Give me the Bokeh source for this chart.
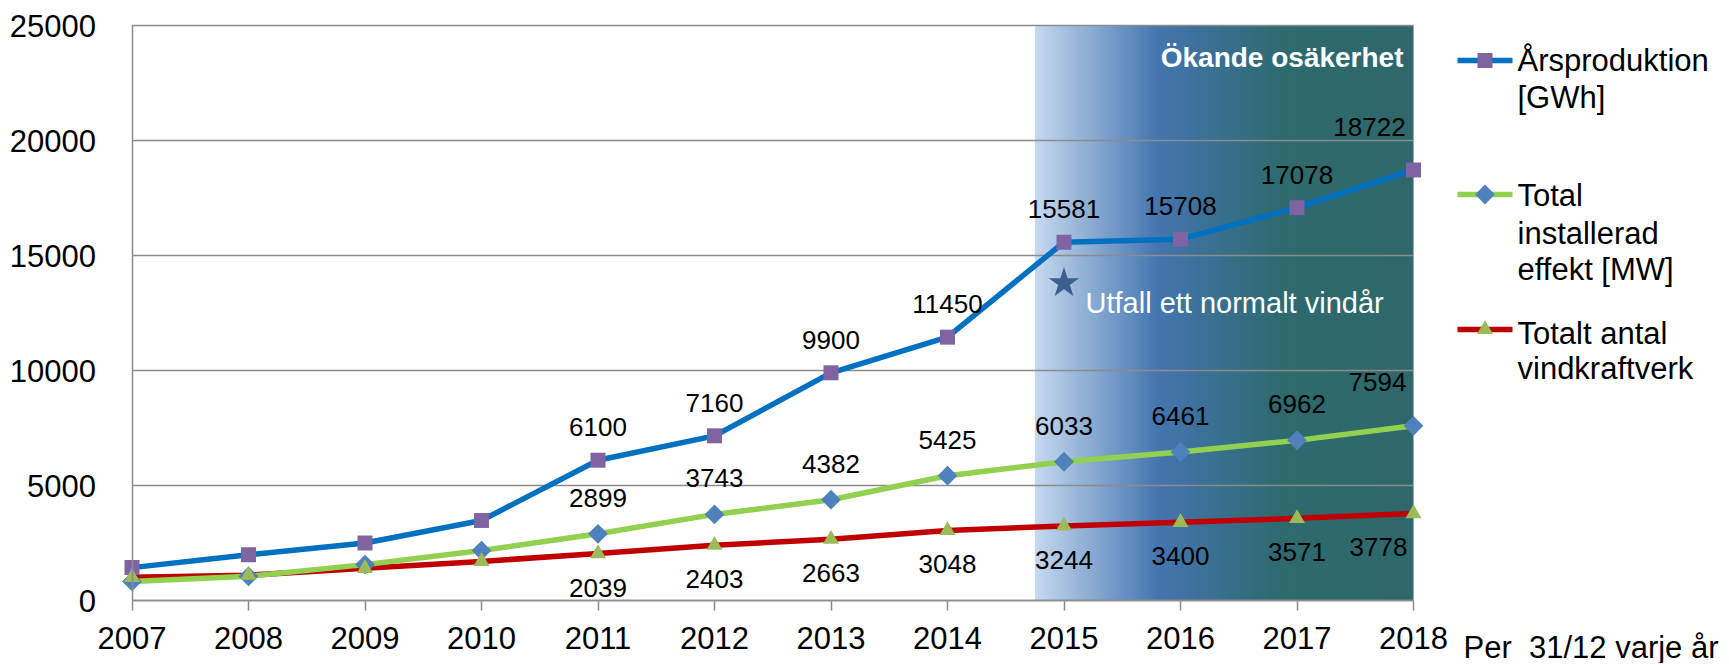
from bokeh.plotting import figure
from bokeh.models import Range1d, FixedTicker, ColumnDataSource, Label
from bokeh.embed import file_html
from bokeh.resources import INLINE
from bokeh.core.properties import value
import math

# ---------------- data ----------------
years = [2007, 2008, 2009, 2010, 2011, 2012, 2013, 2014, 2015, 2016, 2017, 2018]
arsproduktion = [1430, 1990, 2500, 3480, 6100, 7160, 9900, 11450, 15581, 15708, 17078, 18722]
installerad = [830, 1050, 1560, 2170, 2899, 3743, 4382, 5425, 6033, 6461, 6962, 7594]
antal = [1010, 1100, 1400, 1700, 2039, 2403, 2663, 3048, 3244, 3400, 3571, 3778]
normal_year = [2015]
normal_value = [13800]
y_ticks = [0, 5000, 10000, 15000, 20000, 25000]
label_from_year = 2011

legend_names = [["Årsproduktion", "[GWh]"],
                ["Total", "installerad", "effekt [MW]"],
                ["Totalt antal", "vindkraftverk"]]
x_note = "Per\u00a0 31/12 varje år"

# ---------------- layout / style ----------------
FONT = "Liberation Sans"
W, H = 1727, 663
X2007_PX, PX_PER_YEAR = 131.5, 116.5
Y0_PX, PX_PER_UNIT = 600.0, 575.0 / 25000
BASE_FIX = 9.5  # Bokeh places alphabetic baselines slightly lower


def px2x(sx):
    return 2007 + (sx - X2007_PX) / PX_PER_YEAR


def py2y(sy):
    return (Y0_PX - sy) / PX_PER_UNIT


BLUE, GREEN, RED = "#0070C0", "#92D050", "#C00000"
PURPLE, DIAMOND, TRI = "#8064A2", "#4F81BD", "#9BBB59"
GRID = "#8C8C8C"

p = figure(width=W, height=H, output_backend="svg", toolbar_location=None,
           x_range=Range1d(px2x(0), px2x(W)),
           y_range=Range1d(py2y(H), py2y(0)),
           min_border=0)
p.outline_line_color = None
p.xgrid.visible = False
p.ygrid.visible = False

# gradient band "Ökande osäkerhet"
band_start, band_end = 2014.75, 2018
stops = [(0.0, "#C6D9F0"), (0.325, "#4475B0"), (0.65, "#2E6A6E"), (1.0, "#2E686A")]


def hex2rgb(h):
    return tuple(int(h[i:i + 2], 16) for i in (1, 3, 5))


def interp(t):
    for (t0, c0), (t1, c1) in zip(stops[:-1], stops[1:]):
        if t <= t1:
            f = (t - t0) / (t1 - t0) if t1 > t0 else 0
            a, b = hex2rgb(c0), hex2rgb(c1)
            return "#%02x%02x%02x" % tuple(round(a[k] + (b[k] - a[k]) * f) for k in range(3))
    return stops[-1][1]


N = 120
dw = (band_end - band_start) / N
lefts = [band_start + i * dw for i in range(N)]
rights = [min(band_end, l + dw * 1.6) for l in lefts]
cols = [interp((i + 0.5) / N) for i in range(N)]
p.quad(left=lefts, right=rights, bottom=y_ticks[0], top=y_ticks[-1], fill_color=cols, line_color=None)

# gridlines
p.segment(x0=[years[0]] * len(y_ticks), x1=[years[-1]] * len(y_ticks), y0=y_ticks, y1=y_ticks,
          line_color=GRID, line_width=1.5)

# axes (placed at data positions inside the full-canvas frame)
p.yaxis.fixed_location = years[0]
p.yaxis.bounds = (y_ticks[0], y_ticks[-1])
p.yaxis.ticker = FixedTicker(ticks=y_ticks)
p.yaxis.axis_line_color = GRID
p.yaxis.axis_line_width = 1.5
p.yaxis.major_tick_out = 0
p.yaxis.major_tick_in = 0
p.yaxis.minor_tick_line_color = None
p.yaxis.major_label_standoff = 36
p.xaxis.fixed_location = y_ticks[0]
p.xaxis.bounds = (years[0], years[-1])
p.xaxis.ticker = FixedTicker(ticks=years)
p.xaxis.axis_line_color = GRID
p.xaxis.axis_line_width = 1.5
p.xaxis.major_tick_line_color = GRID
p.xaxis.major_tick_line_width = 1.5
p.xaxis.major_tick_out = 10
p.xaxis.major_tick_in = 0
p.xaxis.minor_tick_line_color = None
p.xaxis.major_label_standoff = 16
for ax in (p.xaxis, p.yaxis):
    ax.major_label_text_font = FONT
    ax.major_label_text_font_size = "31px"
    ax.major_label_text_color = "black"

# series
p.line(years, antal, line_color=RED, line_width=5.5, line_join="round")
p.line(years, installerad, line_color=GREEN, line_width=5.5, line_join="round")
p.line(years, arsproduktion, line_color=BLUE, line_width=5.5, line_join="round")
p.scatter(years, arsproduktion, marker="square", size=15, fill_color=PURPLE, line_color=None)
p.scatter(years, installerad, marker="square", size=14, angle=math.pi / 4,
          fill_color=DIAMOND, line_color=None)
p.scatter(years, antal, marker="triangle", size=16, fill_color=TRI, line_color=None)

# normal wind year star
p.scatter(normal_year, normal_value, marker="star", size=32, fill_color="#3B5F8F", line_color=None)
p.text(normal_year, normal_value, text=["Utfall ett normalt vindår"], x_offset=21.5,
       y_offset=29.5 - BASE_FIX,
       text_font=value(FONT), text_font_size="29px", text_color="white",
       text_align="left", text_baseline="alphabetic")

p.text([band_end], [y_ticks[-1]], text=["Ökande osäkerhet"], x_offset=-10, y_offset=41 - BASE_FIX,
       text_font=value(FONT), text_font_size="28px", text_font_style="bold",
       text_color="white", text_align="right", text_baseline="alphabetic")

# data labels
prod_dx = [0, 0, 0, 0, 0, 0, 0, -44]
prod_dy = [-33, -33, -33, -33, -33, -33, -33, -43]
inst_dx = [0, 0, 0, 0, 0, 0, 0, -36]
inst_dy = [-36, -36, -36, -36, -36, -36, -36, -44]
antal_dx = [0, 0, 0, 0, 0, 0, 0, -35]
antal_dy = [34, 34, 34, 34, 34, 34, 34, 33]

for vals, dx, dy in ((arsproduktion, prod_dx, prod_dy),
                     (installerad, inst_dx, inst_dy),
                     (antal, antal_dx, antal_dy)):
    idx = [i for i, y in enumerate(years) if y >= label_from_year]
    src = ColumnDataSource(dict(x=[years[i] for i in idx], y=[vals[i] for i in idx],
                                t=[str(vals[i]) for i in idx], dx=dx, dy=dy))
    p.text(x="x", y="y", text="t", x_offset="dx", y_offset="dy", source=src,
           text_font=value(FONT), text_font_size="26px", text_color="black",
           text_align="center", text_baseline="middle")

# legend (manual)
leg_line_y = [60, 194, 329]
leg_text_base = [[69, 106], [204, 242, 278], [342, 377]]
leg_colors = [BLUE, GREEN, RED]
lx0, lx1, ltx = 1457, 1512, 1517
for k in range(3):
    yy = py2y(leg_line_y[k])
    p.line([px2x(lx0), px2x(lx1)], [yy, yy], line_color=leg_colors[k], line_width=5.5)
xm = [px2x((lx0 + lx1) / 2)]
p.scatter(xm, [py2y(leg_line_y[0])], marker="square", size=15, fill_color=PURPLE, line_color=None)
p.scatter(xm, [py2y(leg_line_y[1])], marker="square", size=14, angle=math.pi / 4,
          fill_color=DIAMOND, line_color=None)
p.scatter(xm, [py2y(leg_line_y[2])], marker="triangle", size=16, fill_color=TRI, line_color=None)
for names, bases in zip(legend_names, leg_text_base):
    for name, b in zip(names, bases):
        p.add_layout(Label(x=px2x(ltx), y=py2y(b - BASE_FIX), text=name, text_font=FONT,
                           text_font_size="31px", text_color="black",
                           text_align="left", text_baseline="alphabetic"))

p.add_layout(Label(x=px2x(1463), y=py2y(656 - BASE_FIX), text=x_note, text_font=FONT,
                   text_font_size="31px", text_color="black",
                   text_align="left", text_baseline="alphabetic"))

open("out.html", "w").write(file_html(p, INLINE))
